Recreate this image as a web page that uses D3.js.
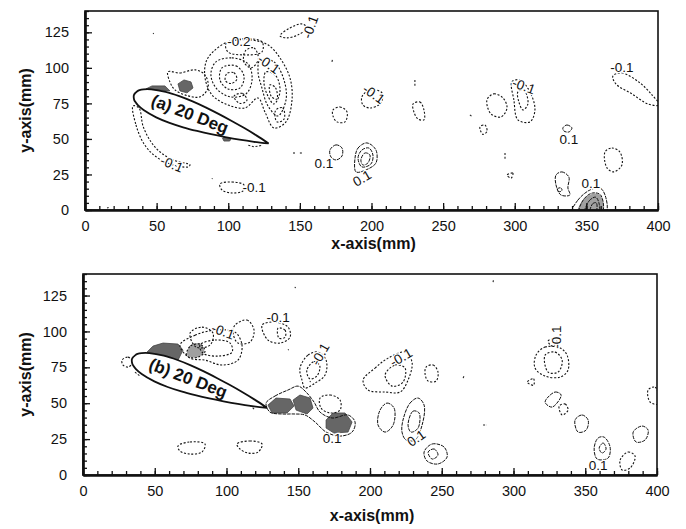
<!DOCTYPE html>
<html>
<head>
<meta charset="utf-8">
<script src="https://cdn.jsdelivr.net/npm/d3@7"></script>
<style>
body { margin: 0; background: #fff; }
svg { display: block; font-family: "Liberation Sans", Arial, sans-serif; }
</style>
</head>
<body>
<svg id="chart" width="686" height="529"></svg>
<script>
// axis ticks (mm)
const xTicks = [0, 50, 100, 150, 200, 250, 300, 350, 400];
const yTicks = [0, 25, 50, 75, 100, 125];

// airfoil outline in mm, trailing edge -> upper -> leading edge -> lower -> trailing edge
const airfoil = [
    [128.2, 46.8], [119.6, 52.5], [110.9, 57.8], [102.1, 62.8], [93.2, 67.6], [84.2, 72.2],
    [75.1, 76.4], [65.8, 80.1], [56.3, 83.1], [46.3, 84.9], [40.9, 84.9], [38.0, 84.3],
    [36.5, 83.5], [34.2, 81.0], [34.3, 77.6], [35.1, 76.1], [36.9, 73.7], [40.9, 70.3],
    [49.7, 65.2], [59.0, 61.3], [68.5, 58.2], [78.2, 55.6], [88.0, 53.3], [97.9, 51.3],
    [107.9, 49.5], [118.0, 48.0], [128.2, 46.8]
];

// ---- panel (a) ----
// negative (dotted) contour loops
const topNeg = [
    [[33.5,73.2],[35.6,59.8],[41.2,46.5],[48.9,38.0],[59.3,32.4],[71.9,30.3],[73.3,31.7],[61.4,35.2],[52.4,40.8],[46.1,47.9],[40.5,59.1],[37.7,71.8]],
    [[94.2,18.3],[102.6,19.7],[111.0,17.6],[110.3,13.4],[102.6,12.0],[95.6,14.1]],
    [[136.1,122.5],[143.1,128.1],[151.5,130.9],[155.0,128.1],[148.7,123.2],[141.0,121.1]],
    [[89.3,111.2],[99.8,118.3],[115.2,119.7],[127.7,116.2],[136.1,107.0],[143.1,92.9],[144.5,77.4],[140.3,62.0],[131.9,57.7],[125.6,69.0],[120.8,78.8],[111.7,71.8],[99.8,73.9],[88.6,81.0],[83.8,92.9],[84.5,104.2]],
    [[57.9,97.2],[66.3,96.4],[76.8,98.6],[83.8,95.0],[85.9,85.9],[80.3,79.6],[71.9,80.3],[62.8,84.5],[59.3,90.1]],
    [[91.4,104.2],[102.6,107.0],[113.8,102.8],[116.6,91.5],[112.4,81.7],[101.2,79.6],[91.4,85.9],[87.9,95.7]],
    [[95.6,100.0],[105.4,101.4],[111.0,94.3],[108.2,85.9],[99.8,85.2],[94.2,91.5]],
    [[99,96],[104,96.5],[106,92],[102,89],[98,91]],
    [[112,112],[118,114],[121,106],[116,100],[111,104]],
    [[104,80],[110,82],[113,77],[108,75]],
    [[122.2,105.6],[131.9,104.2],[138.9,91.5],[140.3,77.4],[134.7,66.2],[127.7,73.2],[123.5,85.9],[120.8,97.2]],
    [[126.3,97.2],[133.3,94.3],[136.1,83.1],[131.9,74.6],[127.0,81.7],[124.9,90.1]],
    [[129,88],[133,86],[134,78],[130,80]],
    [[133,70],[138,72],[139,64],[134,62]],
    [[98.4,116.9],[109.6,120.4],[123.5,118.3],[123.5,111.2],[111.0,109.1],[99.8,111.2]],
    [[193.3,79.6],[198.9,84.5],[207.3,82.4],[206.6,75.3],[198.9,71.8],[194.0,73.9]],
    [[173.1,70.4],[178.0,72.5],[182.9,69.0],[181.5,62.0],[175.9,62.0],[173.1,66.2]],
    [[229.0,74.6],[233.8,76.0],[236.6,70.4],[236.6,63.4],[232.4,64.1],[229.6,69.0]],
    [[275.7,58.4],[279.2,59.8],[280.6,55.3],[277.8,53.2]],
    [[280.6,77.4],[285.5,81.7],[291.8,78.8],[294.6,71.8],[290.4,65.5],[283.4,67.6]],
    [[298.0,90.1],[303.6,91.5],[310.6,83.1],[314.1,70.4],[310.6,62.0],[302.2,63.4],[299.4,77.4]],
    [[302.2,83.1],[306.4,84.5],[309.2,74.6],[305.7,70.4],[302.9,76.0]],
    [[363.0,40.8],[367.8,43.6],[373.4,40.8],[374.8,31.7],[369.2,26.8],[364.4,29.6]],
    [[368.5,94.3],[374.8,96.4],[387.4,89.4],[395.8,81.0],[401,73.9],[393.0,74.6],[381.8,81.7],[370.6,88.7]],
    [[294.6,24.5],[298.7,26.0],[297.5,22.5]]
];
// positive (solid) contour loops
const topPos = [
    [[171.0,42.2],[175.2,45.8],[179.4,43.6],[179.4,38.0],[175.2,35.2],[171.7,37.3]],
    [[188.5,36.6],[190.6,43.6],[196.8,47.2],[203.1,42.2],[203.1,33.1],[196.1,28.2],[189.2,26.8]],
    [[190.6,36.6],[193.3,42.2],[198.2,43.6],[201.0,38.7],[199.6,32.4],[193.3,30.3]],
    [[192.6,35.2],[195.4,40.1],[198.9,38.7],[197.5,33.1],[194.0,31.7]],
    [[333.6,57.7],[336.4,59.8],[339.9,57.7],[337.8,54.9],[334.3,55.6]],
    [[328.8,24.6],[332.9,26.8],[337.8,23.2],[337.1,15.5],[338.5,10.6],[332.2,10.6],[328.8,17.6]],
    [[330,15],[332,15.6],[333,14],[331.5,12.8],[330,13.5]],
    [[340,-2],[344.1,7.0],[352.5,14.1],[359.5,15.5],[363,10.6],[363.5,-2]],
    [[345,-2],[348.5,8],[354.5,12],[360,10.5],[361,-2]],
    [[349,-2],[352,6.5],[356.5,9],[359,4],[358.5,-2]],
    [[352.5,-2],[354.5,4.5],[357,5],[356.5,-2]]
];
const topGray = [
    [[64.9,88.7],[69.1,91.5],[74.0,90.1],[75.4,85.9],[71.2,82.4],[66.3,83.8]],
    [[42.6,85.2],[46.8,87.3],[55.8,87.3],[59.3,83.8],[50,84.5]],
    [[96,50.5],[99,52],[102.5,51],[101,48.5],[97,48.5]]
];
const topLight = [
    [[344,-2],[348,7.5],[354.5,11.5],[360,10],[361,-2]]
];
const topBits = [
    [[47.5,123.9],[48,124.4]], [[172.4,104.2],[172.8,106]], [[145.2,40.1],[147,40.1]],
    [[150,40.1],[151.5,40.1]], [[88.6,21.8],[89,22.3]], [[230.3,91.5],[230.3,86.6]],
    [[268.7,66.9],[270.5,65.5]], [[293.2,40.1],[293.2,35.2]], [[114,45.5],[118,44.5],[124,45.5]],
    [[15.4,1.4],[16.5,1.8]]
];
const topLabels = [
    { t: "-0.1", x: 60.7, y: 32.4, a: 22 },
    { t: "-0.1", x: 118.0, y: 16.2, a: 0 },
    { t: "-0.1", x: 157.1, y: 128.8, a: -70 },
    { t: "-0.2", x: 107.5, y: 119.0, a: 0 },
    { t: "-0.1", x: 128.4, y: 102.8, a: 35 },
    { t: "-0.1", x: 201.7, y: 81.7, a: 35 },
    { t: "0.1", x: 166.8, y: 33.1, a: 0 },
    { t: "0.1", x: 193.3, y: 22.5, a: -30 },
    { t: "-0.1", x: 306.4, y: 87.3, a: 20 },
    { t: "0.1", x: 337.8, y: 50.0, a: 0 },
    { t: "-0.1", x: 374.8, y: 100.7, a: 0 },
    { t: "0.1", x: 353.2, y: 19.0, a: 0 }
];

// ---- panel (b) ----
const botNeg = [
    [[72,84],[75,90],[82,91],[85,86],[80,82],[74,82]],
    [[67.6,90.5],[78.1,97.4],[92.0,100.9],[105.9,99.5],[110.8,90.5],[108.0,80.0],[96.9,76.6],[85.0,80.0],[74.6,81.4]],
    [[81.5,90.5],[92.0,94.0],[102.5,91.9],[103.9,85.6],[94.1,82.8],[83.6,84.9]],
    [[74.6,98.8],[82.9,103.0],[90.6,98.8],[88.5,90.5],[78.8,89.1]],
    [[105.9,104.4],[114.3,107.9],[119.2,100.9],[116.4,92.6],[108.0,91.9],[104.6,98.8]],
    [[124.8,104.4],[133.8,106.5],[142.9,103.0],[144.3,96.0],[137.3,91.9],[128.9,94.0]],
    [[135.9,102.3],[140.8,100.9],[140.8,96.0],[136.6,95.3]],
    [[151.2,74.5],[156.8,83.5],[163.8,85.6],[169.4,80.0],[168.7,69.6],[161.7,64.0],[154.7,60.6],[152.6,66.1]],
    [[156,73],[161,79],[165,76],[163,69],[158,67]],
    [[27.2,80.0],[31.4,82.1],[34.9,78.6],[31.4,75.2],[27.9,76.6]],
    [[165.2,53.6],[172.2,55.7],[179.1,52.2],[179.1,45.2],[172.2,43.2],[165.9,46.6]],
    [[66.2,20.2],[74.6,23.0],[85.0,21.6],[82.9,16.0],[74.6,14.6],[67.6,16.7]],
    [[107.3,21.6],[116.4,23.7],[124.8,21.6],[122.0,16.0],[115.0,15.3],[109.4,18.1]],
    [[195.2,66.1],[203.5,74.5],[212.6,81.4],[224.4,85.6],[229.3,78.6],[226.5,66.1],[221.0,57.8],[210.5,57.8],[198.6,59.2]],
    [[210.5,69.6],[217.5,76.6],[224.4,74.5],[223.0,64.7],[215.4,61.9]],
    [[239.1,75.2],[244.0,76.6],[247.4,71.7],[246.0,65.4],[240.5,65.4],[238.4,70.3]],
    [[315.7,83.5],[322.0,89.1],[332.5,88.4],[337.3,83.5],[338.0,73.1],[332.5,68.2],[322.0,68.9],[315.0,74.5]],
    [[322.0,83.5],[329.0,85.6],[333.9,80.0],[331.1,71.7],[324.1,71.7]],
    [[324.1,93.3],[327.6,94.7],[330.4,92.6],[326.9,89.8]],
    [[331.8,48.0],[336.0,49.4],[338.0,45.2],[333.9,41.8]],
    [[374.3,10.4],[379.9,16.0],[384.7,13.2],[381.3,4.9],[375.7,3.5]],
    [[393.8,59.2],[398.7,61.2],[401,55.7],[401,49.4],[395.2,50.8]],
    [[309.5,64.7],[314,67],[314,62.5]]
];
const botPos = [
    [[127.6,50.1],[133.8,55.0],[142.9,59.2],[149.9,61.9],[155.4,57.8],[161.0,50.8],[165.2,43.8],[173.6,39.7],[184.7,41.8],[189.6,36.9],[187.5,29.9],[179.1,27.1],[169.4,29.9],[161.7,36.9],[154.7,41.8],[147.1,42.5],[138.7,42.5],[130.3,43.8]],
    [[207.0,45.2],[211.9,50.1],[216.8,46.6],[216.1,34.8],[210.5,29.9],[205.6,34.8]],
    [[223.0,38.3],[227.9,50.1],[233.5,53.6],[237.7,48.7],[236.3,34.8],[231.4,24.4],[225.1,24.4],[222.3,29.9]],
    [[226.5,34.8],[230.0,44.5],[234.2,43.2],[233.5,32.7],[228.6,29.9]],
    [[237.7,16.0],[243.3,21.6],[251.6,19.5],[253.7,12.5],[247.4,7.7],[239.8,9.7]],
    [[240.5,16.0],[244.7,18.1],[247.4,13.9],[243.3,11.1]],
    [[322.0,50.8],[329.0,57.8],[333.2,55.7],[326.9,47.3]],
    [[342.9,38.3],[347.8,41.8],[352.0,38.3],[350.6,31.3],[345.0,29.9]],
    [[356.2,18.8],[359.0,25.8],[363.1,26.4],[367.3,19.5],[365.9,11.8],[358.3,11.1]],
    [[359.7,18.8],[362.5,22.3],[364.5,18.1],[361.7,15.3]],
    [[383.4,29.9],[389.6,34.1],[393.8,31.3],[391.7,24.4],[385.4,23.0]]
];
const botGray = [
    [[44.6,85.6],[48.8,89.8],[55.8,91.9],[66.2,91.2],[69.7,87.0],[66.2,80.0],[57.2,82.0],[46.7,83.5]],
    [[128.9,48.7],[134.5,53.6],[144.3,52.9],[147.1,48.0],[142.2,43.2],[131.7,43.2]],
    [[146.4,52.2],[151.2,55.7],[158.2,53.6],[160.3,46.6],[156.1,42.5],[148.5,45.2]],
    [[169.4,38.3],[174.3,43.2],[182.6,43.2],[187.5,36.9],[184.7,29.9],[174.9,29.2],[169.4,32.7]]
];
const botLight = [
    [[72.5,84],[75,90.5],[82,91.5],[84.5,86],[80,82],[74,82.5]]
];
const botBits = [
    [[36.2,71.7],[39.7,68.9]], [[116.4,48.7],[119.9,45.2]], [[147.8,130.1],[148,131]],
    [[158.2,64.7],[158.5,65.5]], [[142.9,87.0],[143.3,87.5]], [[264.9,67.5],[265.5,69]],
    [[278.8,34.8],[281.5,34.8]], [[285.8,134.3],[286,136]]
];
const botLabels = [
    { t: "-0.1", x: 97.6, y: 100.2, a: 20 },
    { t: "-0.1", x: 135.9, y: 110.0, a: 0 },
    { t: "-0.1", x: 165.2, y: 84.2, a: -60 },
    { t: "0.1", x: 173.6, y: 25.8, a: 0 },
    { t: "-0.1", x: 221.6, y: 82.1, a: -30 },
    { t: "0.1", x: 232.1, y: 25.8, a: -35 },
    { t: "-0.1", x: 329.7, y: 96.0, a: -90 },
    { t: "0.1", x: 358.9, y: 7.0, a: 0 }
];

var svg = d3.select("#chart");

var panels = [
    { id: "a", box: { l: 85, r: 658, t: 11, b: 210 }, titleGap: 39, neg: topNeg, pos: topPos, gray: topGray,
      light: topLight, bits: topBits, labels: topLabels, title: "(a) 20 Deg" },
    { id: "b", box: { l: 83, r: 657, t: 274, b: 475 }, titleGap: 46, neg: botNeg, pos: botPos, gray: botGray,
      light: botLight, bits: botBits, labels: botLabels, title: "(b) 20 Deg" }
];

function drawPanel(p)
{
    var x = d3.scaleLinear().domain([0, 400]).range([p.box.l, p.box.r]);
    var y = d3.scaleLinear().domain([0, 140]).range([p.box.b, p.box.t]);

    var g = svg.append("g");

    g.append("clipPath").attr("id", "clip-" + p.id)
      .append("rect")
        .attr("x", p.box.l).attr("y", p.box.t)
        .attr("width", p.box.r - p.box.l).attr("height", p.box.b - p.box.t);

    var plot = g.append("g").attr("clip-path", "url(#clip-" + p.id + ")");

    var smooth = d3.line().x(d => x(d[0])).y(d => y(d[1])).curve(d3.curveCatmullRomClosed.alpha(0.5));
    var poly = d3.line().x(d => x(d[0])).y(d => y(d[1])).curve(d3.curveLinearClosed);
    var open = d3.line().x(d => x(d[0])).y(d => y(d[1]));

    // shaded patches
    plot.selectAll(".gray").data(p.gray).join("path")
        .attr("class", "gray")
        .attr("d", poly)
        .attr("fill", "#666").attr("stroke", "#444").attr("stroke-width", 0.8);

    plot.selectAll(".light").data(p.light).join("path")
        .attr("class", "light")
        .attr("d", smooth)
        .attr("fill", "#a0a0a0").attr("stroke", "none");

    // contour lines
    plot.selectAll(".neg").data(p.neg).join("path")
        .attr("class", "neg")
        .attr("d", smooth)
        .attr("fill", "none").attr("stroke", "#111").attr("stroke-width", 1.1)
        .attr("stroke-dasharray", "2,1.7");

    plot.selectAll(".pos").data(p.pos).join("path")
        .attr("class", "pos")
        .attr("d", smooth)
        .attr("fill", "none").attr("stroke", "#111").attr("stroke-width", 1)
        .attr("stroke-dasharray", "3.5,1");

    plot.selectAll(".bit").data(p.bits).join("path")
        .attr("class", "bit")
        .attr("d", open)
        .attr("fill", "none").attr("stroke", "#222").attr("stroke-width", 1.1)
        .attr("stroke-dasharray", "2,1.7");

    // airfoil
    var foil = d3.line().x(d => x(d[0])).y(d => y(d[1])).curve(d3.curveCatmullRom.alpha(0.5));
    plot.append("path")
        .attr("d", foil(airfoil) + "Z")
        .attr("fill", "#fff").attr("stroke", "#111").attr("stroke-width", 1.8);

    plot.append("text")
        .attr("transform", "translate(" + x(73.3) + "," + y(67.6) + ") rotate(21)")
        .attr("text-anchor", "middle").attr("dy", "0.35em")
        .attr("font-size", 17).attr("font-weight", "bold").attr("fill", "#111")
        .text(p.title);

    // contour labels
    plot.selectAll(".clab").data(p.labels).join("text")
        .attr("class", "clab")
        .attr("transform", d => "translate(" + x(d.x) + "," + y(d.y) + ") rotate(" + d.a + ")")
        .attr("text-anchor", "middle").attr("dy", "0.36em")
        .attr("font-size", 13.5).attr("fill", "#111")
        .attr("stroke", "#fff").attr("stroke-width", 2.5).attr("paint-order", "stroke")
        .text(d => d.t);

    // frame
    g.append("rect")
        .attr("x", p.box.l).attr("y", p.box.t)
        .attr("width", p.box.r - p.box.l).attr("height", p.box.b - p.box.t)
        .attr("fill", "none").attr("stroke", "#111").attr("stroke-width", 1.6);

    // axes, ticks pointing inward
    var xMinor = g.append("g").attr("transform", "translate(0," + p.box.b + ")")
        .call(d3.axisBottom(x).tickValues(d3.range(0, 401, 10)).tickSize(-4).tickSizeOuter(0).tickFormat(""));
    var xMajor = g.append("g").attr("transform", "translate(0," + p.box.b + ")")
        .call(d3.axisBottom(x).tickValues(xTicks).tickSize(-7).tickSizeOuter(0).tickPadding(11));
    var yMinor = g.append("g").attr("transform", "translate(" + p.box.l + ",0)")
        .call(d3.axisLeft(y).tickValues(d3.range(0, 141, 5)).tickSize(-4).tickSizeOuter(0).tickFormat(""));
    var yMajor = g.append("g").attr("transform", "translate(" + p.box.l + ",0)")
        .call(d3.axisLeft(y).tickValues(yTicks).tickSize(-7).tickSizeOuter(0).tickPadding(16));

    [xMinor, xMajor, yMinor, yMajor].forEach(function(a)
    {
        a.select(".domain").attr("stroke", "#111").attr("stroke-width", 2.2);
        a.selectAll(".tick line").attr("stroke", "#111").attr("stroke-width", 1.3);
        a.selectAll(".tick text")
            .attr("font-family", "'Liberation Sans', Arial, sans-serif")
            .attr("font-size", 14.5).attr("fill", "#111");
    });

    // axis titles
    g.append("text")
        .attr("x", (p.box.l + p.box.r) / 2 + 2).attr("y", p.box.b + p.titleGap)
        .attr("text-anchor", "middle")
        .attr("font-size", 16).attr("font-weight", "bold").attr("fill", "#111")
        .text("x-axis(mm)");

    g.append("text")
        .attr("transform", "translate(31," + (p.box.t + p.box.b) / 2 + ") rotate(-90)")
        .attr("text-anchor", "middle")
        .attr("font-size", 16).attr("font-weight", "bold").attr("fill", "#111")
        .text("y-axis(mm)");
}

panels.forEach(drawPanel);
</script>
</body>
</html>
